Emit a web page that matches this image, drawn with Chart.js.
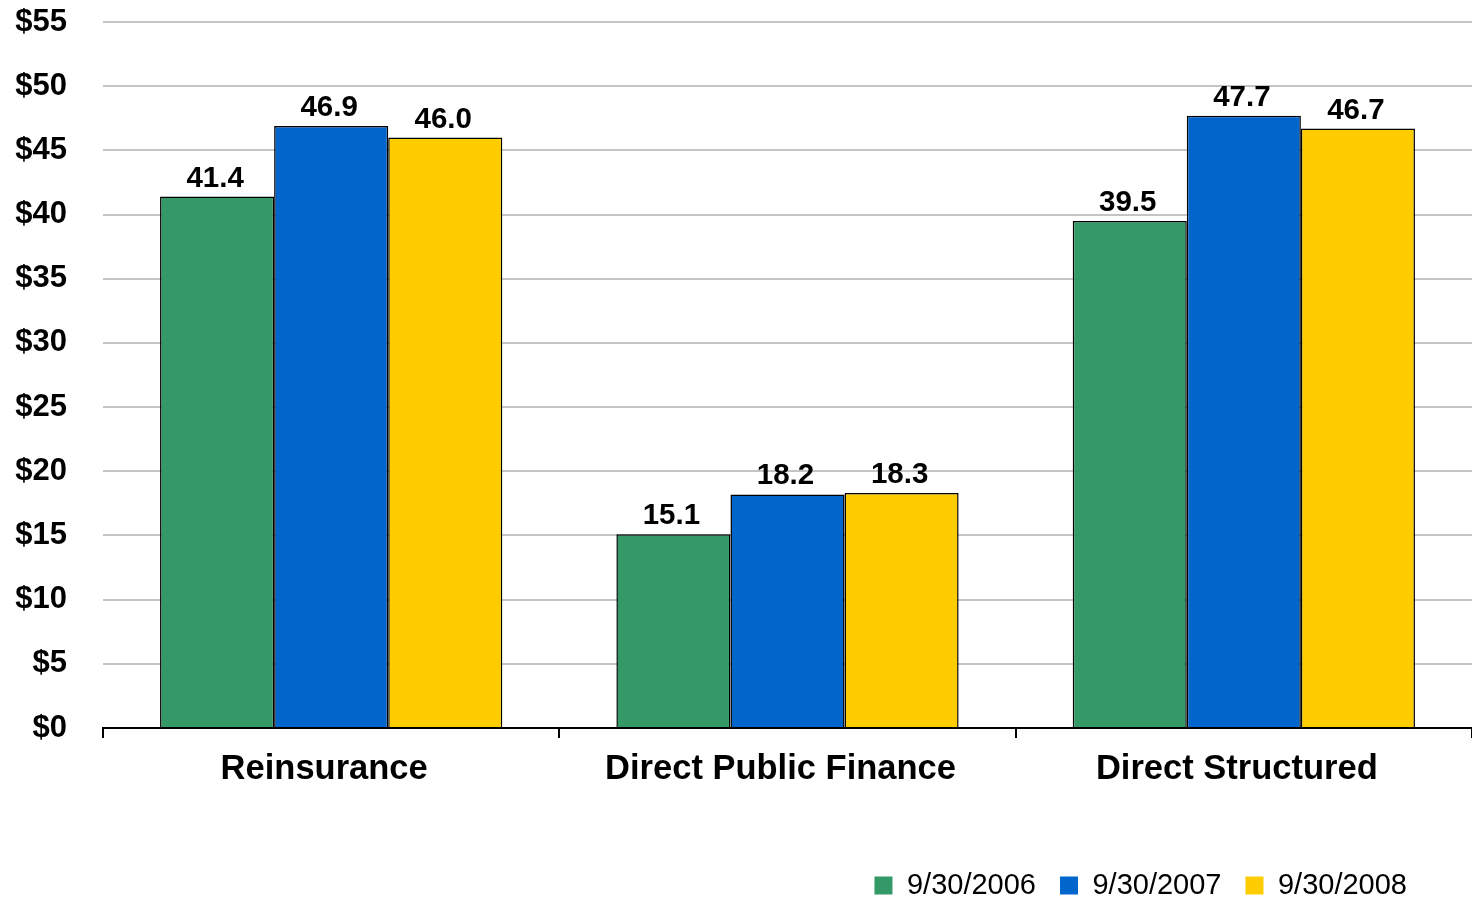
<!DOCTYPE html>
<html>
<head>
<meta charset="utf-8">
<title>Portfolio by segment</title>
<script src="https://cdn.jsdelivr.net/npm/chart.js@4/dist/chart.umd.min.js"></script>
<style>
    html, body { margin: 0; padding: 0; background: #fff; overflow: hidden; }
    #wrap { position: relative; width: 1472px; height: 899px; }
</style>
</head>
<body>
<div id="wrap"><canvas id="segmentChart"></canvas></div>
<script>
// Data
const categories = ['Reinsurance', 'Direct Public Finance', 'Direct Structured'];
const seriesNames = ['9/30/2006', '9/30/2007', '9/30/2008'];
const values2006 = [41.4, 15.1, 39.5];
const values2007 = [46.9, 18.2, 47.7];
const values2008 = [46.0, 18.3, 46.7];
const yTicks = [0, 5, 10, 15, 20, 25, 30, 35, 40, 45, 50, 55];

const FONT = "'Liberation Sans', Arial, sans-serif";
const seriesColors = ['#339966', '#0066CC', '#FFCC00'];

/**
 * Value labels above each bar
 */
const barValueLabels = {
    id: 'barValueLabels',
    afterDatasetsDraw(chart) {
        const ctx = chart.ctx;
        ctx.save();
        ctx.font = 'bold 29.5px ' + FONT;
        ctx.fillStyle = '#000';
        ctx.textAlign = 'center';
        ctx.textBaseline = 'alphabetic';
        chart.data.datasets.forEach((ds, i) => {
            chart.getDatasetMeta(i).data.forEach((bar, j) => {
                ctx.fillText(ds.data[j].toFixed(1), bar.x - 2, bar.y - 10);
            });
        });
        ctx.restore();
    }
};

/**
 * Nudge the legend: it sits a bit in from the right edge and lower down
 */
const legendNudge = {
    id: 'legendNudge',
    afterLayout(chart) {
        const lg = chart.legend;
        if (!lg) return;
        lg.left -= 41;
        lg.right -= 41;
        lg.top += 11;
        lg.bottom += 11;
    }
};

const datasets = [values2006, values2007, values2008].map((vals, i) => ({
    label: seriesNames[i],
    data: vals,
    backgroundColor: seriesColors[i],
    borderColor: '#000',
    borderWidth: 1.5,
    categoryPercentage: 0.75,
    barPercentage: 1.0
}));

const ctx = document.getElementById('segmentChart').getContext('2d');

new Chart(ctx, {
    type: 'bar',
    data: {
        labels: categories,
        datasets: datasets
    },
    options: {
        responsive: true,
        maintainAspectRatio: false,
        animation: false,
        layout: {
            padding: { top: 22, left: 0, right: 0, bottom: 0 }
        },
        plugins: {
            tooltip: { enabled: false },
            legend: {
                position: 'bottom',
                align: 'end',
                labels: {
                    color: '#000',
                    font: { family: FONT, size: 29 },
                    boxWidth: 18,
                    boxHeight: 18,
                    padding: 24,
                    generateLabels: function(chart) {
                        return Chart.defaults.plugins.legend.labels.generateLabels(chart)
                            .map(item => ({ ...item, lineWidth: 0 }));
                    }
                }
            }
        },
        scales: {
            x: {
                grid: {
                    offset: true,
                    drawOnChartArea: false,
                    drawTicks: true,
                    tickLength: 10,
                    color: '#000',
                    lineWidth: 2
                },
                border: { display: true, color: '#000', width: 2 },
                ticks: {
                    color: '#000',
                    padding: 11,
                    labelOffset: -7,
                    font: { family: FONT, size: 34.5, weight: 'bold' }
                },
                afterFit: function(scale) {
                    scale.height = 108;
                }
            },
            y: {
                min: yTicks[0],
                max: yTicks[yTicks.length - 1],
                afterBuildTicks: function(scale) {
                    scale.ticks = yTicks.map(v => ({ value: v }));
                },
                grid: {
                    drawTicks: true,
                    tickLength: 36,
                    tickColor: 'rgba(0,0,0,0)',
                    color: '#C4C4C4',
                    lineWidth: 2
                },
                border: { display: false },
                ticks: {
                    color: '#000',
                    padding: 0,
                    font: { family: FONT, size: 31, weight: 'bold' },
                    callback: function(value) {
                        return '$' + value;
                    }
                },
                afterFit: function(scale) {
                    scale.width = 103;
                }
            }
        }
    },
    plugins: [barValueLabels, legendNudge]
});
</script>
</body>
</html>
